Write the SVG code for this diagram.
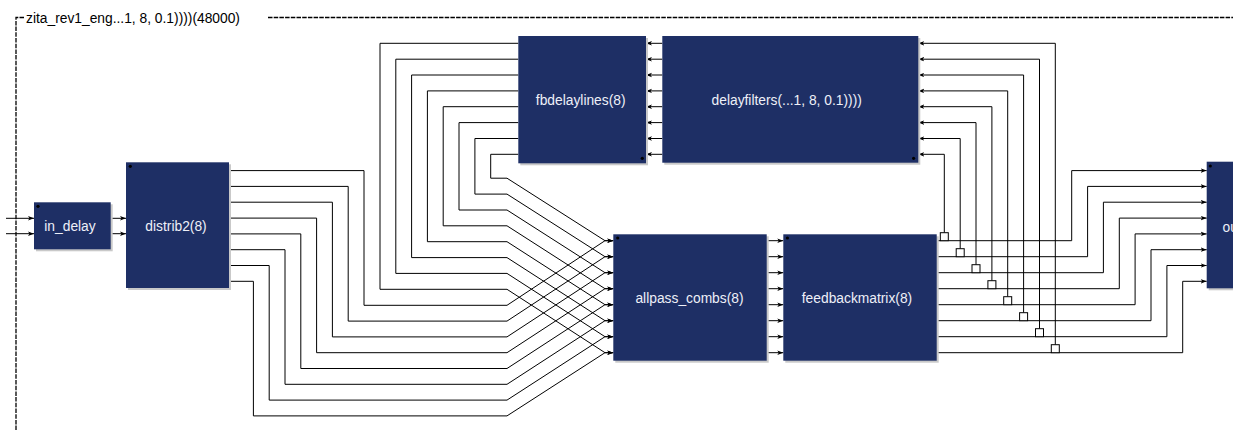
<svg xmlns="http://www.w3.org/2000/svg" width="1233" height="431" viewBox="0 0 1233 431">
<style>
.box{fill:#1e2f65}
.sh{fill:#c9c9c9}
.lbl{font-family:"Liberation Sans",Arial,sans-serif;font-size:13.8px;fill:#eef0f8;text-anchor:middle}
.ttl{font-family:"Liberation Sans",Arial,sans-serif;font-size:13.8px;fill:#000}
.w{fill:none;stroke:#000;stroke-width:1}
.a{fill:none;stroke:#000;stroke-width:1;marker-end:url(#arr)}
.sq{fill:#fff;stroke:#000;stroke-width:1}
.fr{fill:none;stroke:#000;stroke-width:1.3;stroke-dasharray:4.5,1.2}
.dot{fill:#000}
</style>
<defs>
<marker id="arr" markerWidth="7" markerHeight="6" refX="6" refY="3" orient="auto" markerUnits="userSpaceOnUse">
<path d="M0,0.8 L6,3 L0,5.2 L1.5,3 z" fill="#000"/>
</marker>
</defs>
<rect width="1233" height="431" fill="#fff"/>
<g id="frame">
<path class="fr" d="M24,17.5 L16,17.5 L16,431"/>
<path class="fr" d="M268,17.5 L1233,17.5"/>
<text class="ttl" x="26" y="23">zita_rev1_eng...1, 8, 0.1))))(48000)</text>
</g>
<g id="connectors">
<path class="a" d="M6,218.3 L34,218.3"/>
<path class="a" d="M6,233.7 L34,233.7"/>
<path class="a" d="M110.7,218.3 L126,218.3"/>
<path class="a" d="M110.7,233.7 L126,233.7"/>
<path class="a" d="M229,170.6 L364,170.6 L364,305.3 L507,305.3 L605,240.7 L613.3,240.7"/>
<path class="a" d="M229,186.4 L348.2,186.4 L348.2,321.1 L507,321.1 L605,256.7 L613.3,256.7"/>
<path class="a" d="M229,202.2 L332.4,202.2 L332.4,336.9 L507,336.9 L605,272.7 L613.3,272.7"/>
<path class="a" d="M229,218.1 L316.6,218.1 L316.6,352.7 L507,352.7 L605,288.7 L613.3,288.7"/>
<path class="a" d="M229,233.9 L300.8,233.9 L300.8,368.5 L507,368.5 L605,304.7 L613.3,304.7"/>
<path class="a" d="M229,249.7 L285,249.7 L285,384.3 L507,384.3 L605,320.7 L613.3,320.7"/>
<path class="a" d="M229,265.5 L269.2,265.5 L269.2,400.1 L507,400.1 L605,336.7 L613.3,336.7"/>
<path class="a" d="M229,281.3 L253.4,281.3 L253.4,415.9 L507,415.9 L605,352.7 L613.3,352.7"/>
<path class="a" d="M518.3,43.3 L380,43.3 L380,289.3 L507,289.3 L605,352.7 L613.3,352.7"/>
<path class="a" d="M518.3,59.2 L395.8,59.2 L395.8,273.4 L507,273.4 L605,336.7 L613.3,336.7"/>
<path class="a" d="M518.3,75 L411.6,75 L411.6,257.6 L507,257.6 L605,320.7 L613.3,320.7"/>
<path class="a" d="M518.3,90.9 L427.4,90.9 L427.4,241.7 L507,241.7 L605,304.7 L613.3,304.7"/>
<path class="a" d="M518.3,106.7 L443.2,106.7 L443.2,225.8 L507,225.8 L605,288.7 L613.3,288.7"/>
<path class="a" d="M518.3,122.6 L459,122.6 L459,210 L507,210 L605,272.7 L613.3,272.7"/>
<path class="a" d="M518.3,138.5 L474.9,138.5 L474.9,194.1 L507,194.1 L605,256.7 L613.3,256.7"/>
<path class="a" d="M518.3,154.3 L490.7,154.3 L490.7,178.2 L507,178.2 L605,240.7 L613.3,240.7"/>
<path class="a" d="M766.7,240.7 L783.3,240.7"/>
<path class="a" d="M766.7,256.7 L783.3,256.7"/>
<path class="a" d="M766.7,272.7 L783.3,272.7"/>
<path class="a" d="M766.7,288.7 L783.3,288.7"/>
<path class="a" d="M766.7,304.7 L783.3,304.7"/>
<path class="a" d="M766.7,320.7 L783.3,320.7"/>
<path class="a" d="M766.7,336.7 L783.3,336.7"/>
<path class="a" d="M766.7,352.7 L783.3,352.7"/>
<path class="a" d="M662.3,43.3 L646,43.3"/>
<path class="a" d="M662.3,59.2 L646,59.2"/>
<path class="a" d="M662.3,75 L646,75"/>
<path class="a" d="M662.3,90.9 L646,90.9"/>
<path class="a" d="M662.3,106.7 L646,106.7"/>
<path class="a" d="M662.3,122.6 L646,122.6"/>
<path class="a" d="M662.3,138.5 L646,138.5"/>
<path class="a" d="M662.3,154.3 L646,154.3"/>
<path class="a" d="M936.7,240.7 L1071.7,240.7 L1071.7,170.6 L1206.7,170.6"/>
<path class="a" d="M936.7,256.7 L1087.6,256.7 L1087.6,186.4 L1206.7,186.4"/>
<path class="a" d="M936.7,272.7 L1103.4,272.7 L1103.4,202.2 L1206.7,202.2"/>
<path class="a" d="M936.7,288.7 L1119.3,288.7 L1119.3,218.1 L1206.7,218.1"/>
<path class="a" d="M936.7,304.7 L1135.1,304.7 L1135.1,233.9 L1206.7,233.9"/>
<path class="a" d="M936.7,320.7 L1151,320.7 L1151,249.7 L1206.7,249.7"/>
<path class="a" d="M936.7,336.7 L1166.9,336.7 L1166.9,265.5 L1206.7,265.5"/>
<path class="a" d="M936.7,352.7 L1182.7,352.7 L1182.7,281.3 L1206.7,281.3"/>
<path class="a" d="M944.3,232.7 L944.3,154.3 L918.3,154.3"/>
<path class="a" d="M960.2,248.7 L960.2,138.5 L918.3,138.5"/>
<path class="a" d="M976,264.7 L976,122.6 L918.3,122.6"/>
<path class="a" d="M991.9,280.7 L991.9,106.7 L918.3,106.7"/>
<path class="a" d="M1007.7,296.7 L1007.7,90.9 L918.3,90.9"/>
<path class="a" d="M1023.6,312.7 L1023.6,75 L918.3,75"/>
<path class="a" d="M1039.5,328.7 L1039.5,59.2 L918.3,59.2"/>
<path class="a" d="M1055.3,344.7 L1055.3,43.3 L918.3,43.3"/>
<rect class="sq" x="940.3" y="232.7" width="8" height="8"/>
<rect class="sq" x="956.2" y="248.7" width="8" height="8"/>
<rect class="sq" x="972" y="264.7" width="8" height="8"/>
<rect class="sq" x="987.9" y="280.7" width="8" height="8"/>
<rect class="sq" x="1003.7" y="296.7" width="8" height="8"/>
<rect class="sq" x="1019.6" y="312.7" width="8" height="8"/>
<rect class="sq" x="1035.5" y="328.7" width="8" height="8"/>
<rect class="sq" x="1051.3" y="344.7" width="8" height="8"/>
</g>
<g id="in_delay">
<rect class="sh" x="36" y="204.3" width="76.7" height="47"/>
<rect class="box" x="34" y="202.3" width="76.7" height="47"/>
<circle class="dot" cx="38" cy="206.3" r="1.6"/>
<text class="lbl" x="70" y="231">in_delay</text>
</g>
<g id="distrib2">
<rect class="sh" x="128" y="164.3" width="103" height="125.7"/>
<rect class="box" x="126" y="162.3" width="103" height="125.7"/>
<circle class="dot" cx="130.3" cy="166.3" r="1.6"/>
<text class="lbl" x="176" y="230.5">distrib2(8)</text>
</g>
<g id="fbdelaylines">
<rect class="sh" x="520.3" y="38" width="127.7" height="127.3"/>
<rect class="box" x="518.3" y="36" width="127.7" height="127.3"/>
<circle class="dot" cx="642.3" cy="158.3" r="1.6"/>
<text class="lbl" x="580.7" y="105">fbdelaylines(8)</text>
</g>
<g id="delayfilters">
<rect class="sh" x="664.3" y="38" width="256" height="126.7"/>
<rect class="box" x="662.3" y="36" width="256" height="126.7"/>
<circle class="dot" cx="913.6" cy="158.3" r="1.6"/>
<text class="lbl" x="786.7" y="105">delayfilters(...1, 8, 0.1))))</text>
</g>
<g id="allpass_combs">
<rect class="sh" x="615.3" y="236.3" width="153.4" height="126.4"/>
<rect class="box" x="613.3" y="234.3" width="153.4" height="126.4"/>
<circle class="dot" cx="617.7" cy="238" r="1.6"/>
<text class="lbl" x="689.5" y="302.5">allpass_combs(8)</text>
</g>
<g id="feedbackmatrix">
<rect class="sh" x="785.3" y="236.3" width="153.4" height="126.4"/>
<rect class="box" x="783.3" y="234.3" width="153.4" height="126.4"/>
<circle class="dot" cx="787.4" cy="238" r="1.6"/>
<text class="lbl" x="857" y="302.5">feedbackmatrix(8)</text>
</g>
<g id="output2">
<rect class="sh" x="1208.7" y="163.7" width="103" height="126.6"/>
<rect class="box" x="1206.7" y="161.7" width="103" height="126.6"/>
<circle class="dot" cx="1210.3" cy="166" r="1.6"/>
<text class="lbl" x="1254" y="231.5">output2(8)</text>
</g>
</svg>
